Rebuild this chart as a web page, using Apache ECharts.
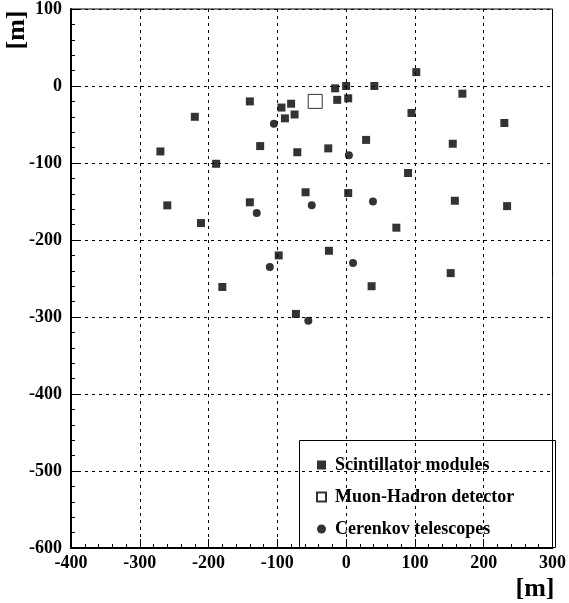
<!DOCTYPE html>
<html>
<head>
<meta charset="utf-8">
<script src="https://cdn.jsdelivr.net/npm/echarts@6/dist/echarts.min.js"></script>
<style>html,body{margin:0;padding:0;background:#fff;}#c{width:569px;height:603px;}</style>
</head>
<body>
<div id="c"></div>
<script>
// Scintillator modules [x, y] in metres
const scintillatorX = [-140,-220,-270,-189,-125,-94,-89,-80,-75,-16,0,41,102,-13,3,169,95,230,29,155,-26,-71,90,-59,3,-260,-211,-140,-98,-180,158,234,73,-25,152,37,-73];
const scintillatorY = [-20,-40,-85,-101,-78,-28,-42,-23,-37,-3,0,0,18,-18,-16,-10,-35,-48,-70,-75,-81,-86,-113,-138,-139,-155,-178,-151,-220,-261,-149,-156,-184,-214,-243,-260,-296];
// Muon-Hadron detector
const muonX = [-45];
const muonY = [-20];
// Cerenkov telescopes
const cerenkovX = [-105,4,-130,-111,-50,39,10,-55];
const cerenkovY = [-49,-90,-165,-235,-155,-150,-230,-305];
const seriesNames = ['Scintillator modules','Muon-Hadron detector','Cerenkov telescopes'];
const xTicks = {min:-400, max:300, step:100};
const yTicks = {min:-600, max:100, step:100};

const zip = (a,b)=>a.map((v,i)=>[v,b[i]]);
const FONT = '"Liberation Serif","Times New Roman",serif';
const chart = echarts.init(document.getElementById('c'), null, {renderer:'canvas'});
const axisCommon = {
  axisLine:{show:true, onZero:false, lineStyle:{color:'#000', width:2}},
  axisTick:{show:true, inside:true, length:9, lineStyle:{color:'#000', width:1}},
  minorTick:{show:true, splitNumber:5, length:4, lineStyle:{color:'#000', width:1}},
  splitLine:{show:true, lineStyle:{color:'#000', width:1, type:[3,4]}},
  axisLabel:{color:'#000', fontFamily:FONT, fontWeight:'bold', fontSize:18}
};
chart.setOption({
  animation:false,
  backgroundColor:'#fff',
  grid:{left:71, right:13, top:9, bottom:55, show:true, borderColor:'#000', borderWidth:1},
  xAxis:Object.assign({type:'value', min:xTicks.min, max:xTicks.max, interval:xTicks.step}, axisCommon,
    {axisLabel:Object.assign({}, axisCommon.axisLabel, {margin:6})}),
  yAxis:Object.assign({type:'value', min:yTicks.min, max:yTicks.max, interval:yTicks.step}, axisCommon,
    {axisLabel:Object.assign({}, axisCommon.axisLabel, {margin:9})}),
  legend:{
    orient:'vertical', left:311, top:450, itemWidth:9, itemHeight:9, itemGap:12,
    textStyle:{color:'#000', fontFamily:FONT, fontWeight:'bold', fontSize:18, lineHeight:20, padding:[0,0,0,4]},
    data:seriesNames
  },
  graphic:[
    {type:'rect', shape:{x:299.5, y:440.5, width:256, height:107}, style:{fill:null, stroke:'#000', lineWidth:1}, z:100},
    {type:'text', x:17, y:30, rotation:Math.PI/2, style:{text:'[m]', fill:'#000', font:'bold 26px '+FONT, textAlign:'center', textVerticalAlign:'middle'}},
    {type:'text', x:535, y:589, style:{text:'[m]', fill:'#000', font:'bold 26px '+FONT, textAlign:'center', textVerticalAlign:'middle'}}
  ],
  series:[
    {name:seriesNames[0], type:'scatter', symbol:'rect', symbolSize:8, itemStyle:{color:'#000'}, data:zip(scintillatorX, scintillatorY), z:3},
    {name:seriesNames[1], type:'scatter', symbol:'rect', symbolSize:14, itemStyle:{color:'#fff', borderColor:'#000', borderWidth:1}, data:zip(muonX, muonY), z:3},
    {name:seriesNames[2], type:'scatter', symbol:'circle', symbolSize:8, itemStyle:{color:'#000'}, data:zip(cerenkovX, cerenkovY), z:3}
  ]
});
</script>
</body>
</html>
